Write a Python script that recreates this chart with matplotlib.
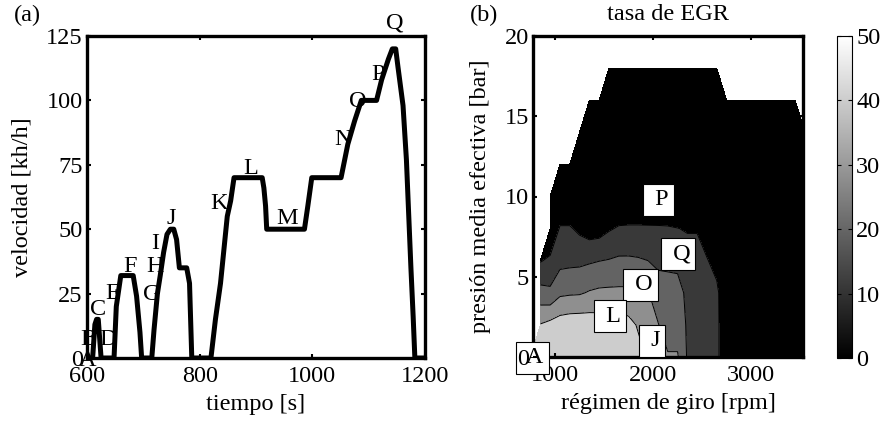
import numpy as np
import matplotlib
matplotlib.use("Agg")
import matplotlib.pyplot as plt
from matplotlib.cm import ScalarMappable
from matplotlib.colors import Normalize

plt.rcParams['font.family'] = ['Liberation Serif', 'DejaVu Serif']
plt.rcParams['font.size'] = 17.5

# (a) velocidad frente a tiempo
tiempo = [600, 610, 614, 617, 620, 625, 648, 652, 660, 682, 688, 694, 697,
          715, 719, 725, 730, 736, 742, 748, 754, 759, 764, 777, 782, 786,
          820, 828, 837, 849, 855, 861, 911, 914, 917, 919, 986, 992, 999,
          1051, 1063, 1075, 1087, 1114, 1123, 1135, 1142, 1148, 1152, 1161,
          1167, 1175, 1179, 1182, 1200]
velocidad = [0, 0, 13, 15, 15, 0, 0, 20, 32, 32, 24, 10, 0,
             0, 11, 25, 32, 41, 48, 50, 50, 46, 35, 35, 29, 0,
             0, 15, 29, 55, 61, 70, 70, 66, 59, 50, 50, 59, 70,
             70, 83, 92, 100, 100, 108, 116, 120, 120, 113, 98,
             77, 35, 16, 0, 0]

letras_a = ['A', 'B', 'C', 'D', 'E', 'F', 'G', 'H', 'I', 'J', 'K', 'L', 'M',
            'N', 'O', 'P', 'Q']
t_letras = [601, 603, 620, 637, 645, 677, 715, 721, 721, 749, 834, 890,
            956, 1054, 1081, 1117, 1147]
v_letras = [-1, 7, 19, 7, 25, 35.5, 24.6, 35.5, 44.6, 54.3, 60, 73.7, 54.3,
            84.7, 99.5, 110, 130]

# (b) mapa de tasa de EGR
regimen = [750, 850, 950, 1050, 1150, 1250, 1350, 1450, 1550, 1650, 1750,
           1850, 1950, 2050, 2150, 2250, 2350, 2450, 2550, 2650, 2750,
           3450, 3550]
pme = [0, 2, 4, 6, 8, 10, 12, 14, 16, 18, 20]
n = np.nan
# one list per engine speed, values at pme = 0, 2, ..., 20 bar
egr_cols = [
    [44, n, n, n, n, n, n, n, n, n, n],
    [45, 40.5, 23.5, 9.3, n, n, n, n, n, n, n],
    [47, 43, 22, 12, 0, 0, n, n, n, n, n],
    [48, 45, 28, 17, 11, 0, 0, n, n, n, n],
    [48, 46, 28.7, 17.5, 11, 0, 0, n, n, n, n],
    [48, 46.2, 29, 17.8, 8, 0, 0, 0, n, n, n],
    [48, 45.7, 30.8, 18.8, 5.3, 0, 0, 0, 0, n, n],
    [48, 45, 31.8, 19.8, 5.8, 0, 0, 0, 0, n, n],
    [47, 45, 32, 20.5, 9, 0, 0, 0, 0, 0, n],
    [46, 45, 32, 21.5, 11, 0, 0, 0, 0, 0, n],
    [45, 43, 32, 21.5, 11.3, 0, 0, 0, 0, 0, n],
    [43, 39, 31.5, 21, 11.3, 0, 0, 0, 0, 0, n],
    [39, 36, 30.5, 20, 11.2, 0, 0, 0, 0, 0, n],
    [35, 30.5, 25, 17.9, 11.1, 0, 0, 0, 0, 0, n],
    [31, 25, 23, 18.4, 10.9, 0, 0, 0, 0, 0, n],
    [31, 25, 22.5, 18.3, 10.2, 0, 0, 0, 0, 0, n],
    [19, 19, 18.5, 14, 9.3, 0, 0, 0, 0, 0, n],
    [17, 16.5, 16, 14, 9.3, 0, 0, 0, 0, 0, n],
    [15, 15, 14.5, 10.7, 4, 0, 0, 0, 0, 0, n],
    [13, 13, 12.5, 6, 0, 0, 0, 0, 0, 0, n],
    [0, 0, 0, 0, 0, 0, 0, 0, 0, n, n],
    [0, 0, 0, 0, 0, 0, 0, 0, 0, n, n],
    [0, 0, 0, 0, 0, 0, 0, 0, n, n, n],
]
niveles = [0, 10, 20, 30, 40, 50]

letras_b = ['P', 'Q', 'O', 'L', 'J', 'A']
rpm_letras = [2054, 2258, 1872, 1561, 1992, 767]
pme_letras = [9.8, 6.4, 4.5, 2.55, 1.0, -0.05]

fig = plt.figure(figsize=(8.83, 4.28), dpi=100)
ax1 = fig.add_axes([87/883, 70/428, 338/883, 322/428])
ax2 = fig.add_axes([533/883, 71/428, 270/883, 321/428])
cax = fig.add_axes([837/883, 70/428, 15/883, 322/428])

# ---- (a)
ax1.plot(tiempo, velocidad, color='k', lw=3.6, solid_joinstyle='round')
for l, t, v in zip(letras_a, t_letras, v_letras):
    ax1.text(t, v, l, ha='center', va='center', zorder=5)
ax1.set_xlim(600, 1200)
ax1.set_ylim(0, 125)
ax1.set_xticks([600, 800, 1000, 1200])
ax1.set_yticks([0, 25, 50, 75, 100, 125])
ax1.set_xlabel('tiempo [s]', labelpad=5)
ax1.set_ylabel('velocidad [kh/h]', labelpad=10)

# ---- (b)
Z = np.array(egr_cols, dtype=float).T
ax2.contourf(regimen, pme, Z, levels=niveles,
             colors=['#000000', '#393939', '#636363', '#8f8f8f', '#cdcdcd'])
ax2.contour(regimen, pme, Z, levels=niveles[1:-1], colors='k', linewidths=0.7)
for l, r, p in zip(letras_b, rpm_letras, pme_letras):
    ax2.text(r, p, ' ' + l, ha='center', va='center', zorder=6,
             bbox=dict(boxstyle='square,pad=0.22', fc='white', ec='black', lw=0.8))
ax2.set_xlim(775, 3530)
ax2.set_ylim(0, 20)
ax2.set_xticks([1000, 2000, 3000])
ax2.set_yticks([0, 5, 10, 15, 20])
ax2.set_xlabel('régimen de giro [rpm]', labelpad=5)
ax2.set_ylabel('presión media efectiva [bar]', labelpad=10)
ax2.yaxis.set_zorder(7)

for ax in (ax1, ax2):
    for s in ax.spines.values():
        s.set_linewidth(2.4)
    ax.tick_params(direction='in', length=3, width=1.5, top=True, right=True)
    ax.tick_params(axis='x', pad=6)
    ax.tick_params(axis='y', pad=3)

sm = ScalarMappable(norm=Normalize(0, 50), cmap='gray')
cb = fig.colorbar(sm, cax=cax, ticks=[0, 10, 20, 30, 40, 50])
cb.outline.set_linewidth(0.8)
cax.tick_params(direction='in', length=3, width=0.8, left=True, right=True, pad=3)

fig.text(27/883, 1 - 15/428, '(a)', ha='center', va='center')
fig.text(484/883, 1 - 15/428, '(b)', ha='center', va='center')
fig.text(668/883, 1 - 15/428, 'tasa de EGR', ha='center', va='center')

fig.savefig('out.png', dpi=100)
